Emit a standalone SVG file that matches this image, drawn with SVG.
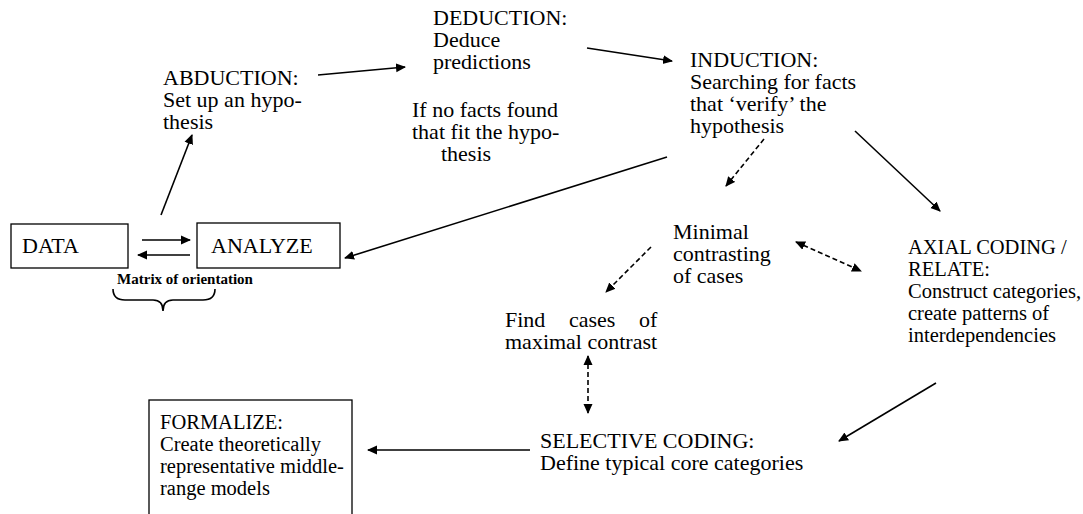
<svg xmlns="http://www.w3.org/2000/svg" width="1083" height="514" viewBox="0 0 1083 514">
<style>
text{font-family:'Liberation Serif','Times New Roman','DejaVu Serif',serif;font-size:22px;fill:#000}
.b{font-weight:bold;font-size:15px}
.s{font-size:20.5px}
.box{fill:#fff;stroke:#000;stroke-width:1.3}
.c{fill:none;stroke:#000;stroke-width:1.6}
.d{fill:none;stroke:#000;stroke-width:1.6;stroke-dasharray:5,3}
</style>
<defs>
<marker id="ah" viewBox="0 0 10 10" refX="9" refY="5" markerWidth="10" markerHeight="10" markerUnits="userSpaceOnUse" orient="auto"><path d="M0,0.5 L10,5 L0,9.5 z" fill="#000"/></marker>
<marker id="as" viewBox="0 0 10 10" refX="1" refY="5" markerWidth="10" markerHeight="10" markerUnits="userSpaceOnUse" orient="auto"><path d="M10,0.5 L0,5 L10,9.5 z" fill="#000"/></marker>
</defs>
<rect width="1083" height="514" fill="#fff"/>
<g id="data"><rect class="box" x="11" y="224" width="117" height="44"/><text x="22" y="253">DATA</text></g>
<g id="analyze"><rect class="box" x="197" y="223" width="143" height="45"/><text x="211" y="253">ANALYZE</text></g>
<g id="matrix"><text class="b" x="185" y="284" text-anchor="middle">Matrix of orientation</text>
<path class="c" d="M113,289 Q113,300 125,300 L153,300 Q163,300 163,311 Q163,300 173,300 L203,300 Q215,300 215,289"/></g>
<g id="abduction"><text x="163" y="85">ABDUCTION:</text><text x="163" y="107">Set up an hypo-</text><text x="163" y="129">thesis</text></g>
<g id="deduction"><text x="433" y="25">DEDUCTION:</text><text x="433" y="47">Deduce</text><text x="433" y="69">predictions</text></g>
<g id="induction"><text x="690" y="67">INDUCTION:</text><text x="690" y="89">Searching for facts</text><text x="690" y="111">that ‘verify’ the</text><text x="690" y="133">hypothesis</text></g>
<g id="nofacts"><text x="412" y="117">If no facts found</text><text x="412" y="139">that fit the hypo-</text><text x="466" y="161" text-anchor="middle">thesis</text></g>
<g id="minimal"><text x="673" y="239">Minimal</text><text x="673" y="261">contrasting</text><text x="673" y="283">of cases</text></g>
<g id="axial"><text class="s" x="908" y="254">AXIAL CODING /</text><text class="s" x="908" y="276">RELATE:</text><text class="s" x="908" y="298">Construct categories,</text><text class="s" x="908" y="320">create patterns of</text><text class="s" x="908" y="342">interdependencies</text></g>
<g id="find"><text y="327"><tspan x="505">Find</tspan><tspan x="569">cases</tspan><tspan x="639">of</tspan></text><text x="505" y="349">maximal contrast</text></g>
<g id="selective"><text x="540" y="448">SELECTIVE CODING:</text><text x="540" y="470">Define typical core categories</text></g>
<g id="formalize"><rect class="box" x="149" y="400" width="203" height="120"/><text class="s" x="160" y="429">FORMALIZE:</text><text class="s" x="160" y="451">Create theoretically</text><text class="s" x="160" y="473">representative middle-</text><text class="s" x="160" y="495">range models</text></g>
<g id="connectors">
<line class="c" x1="142" y1="240" x2="190" y2="240" marker-end="url(#ah)"/>
<line class="c" x1="190" y1="255" x2="138" y2="255" marker-end="url(#ah)"/>
<line class="c" x1="161" y1="215" x2="192" y2="135" marker-end="url(#ah)"/>
<line class="c" x1="318" y1="75" x2="405" y2="67" marker-end="url(#ah)"/>
<line class="c" x1="587" y1="48" x2="672" y2="61" marker-end="url(#ah)"/>
<line class="c" x1="667" y1="157" x2="345" y2="258" marker-end="url(#ah)"/>
<line class="c" x1="855" y1="131" x2="940" y2="211" marker-end="url(#ah)"/>
<line class="d" x1="764" y1="139" x2="726" y2="186" marker-end="url(#ah)"/>
<line class="d" x1="651" y1="247" x2="606" y2="292" marker-end="url(#ah)"/>
<line class="d" x1="796" y1="242" x2="861" y2="271" marker-start="url(#as)" marker-end="url(#ah)"/>
<line class="d" x1="588" y1="356" x2="588" y2="413" marker-start="url(#as)" marker-end="url(#ah)"/>
<line class="c" x1="936" y1="383" x2="839" y2="441" marker-end="url(#ah)"/>
<line class="c" x1="530" y1="450" x2="368" y2="450" marker-end="url(#ah)"/>
</g>
</svg>
